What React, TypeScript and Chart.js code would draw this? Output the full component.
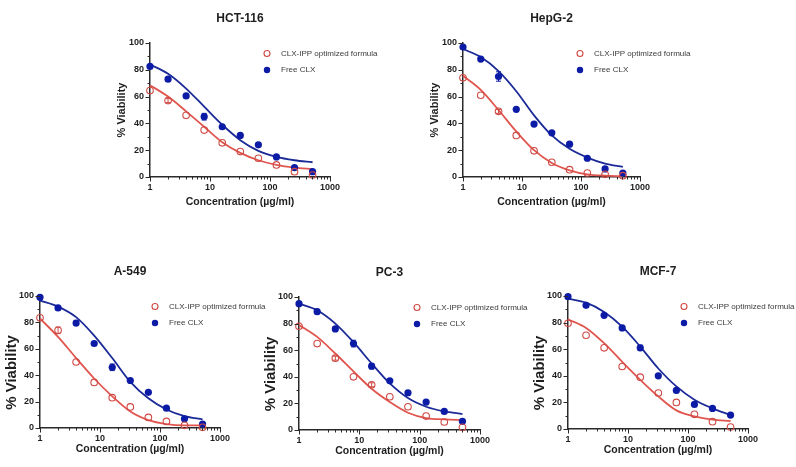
import React, { useEffect, useRef } from "react";
import { Chart, registerables } from "chart.js";

Chart.register(...registerables);

// ---------- data ----------
const concentrations = [1, 2, 4, 8, 16, 32, 64, 128, 256, 512];
const xTickValues = [1, 10, 100, 1000];
const yTickValues = [0, 20, 40, 60, 80, 100];
const seriesNames = ["CLX-IPP optimized formula", "Free CLX"];
const cellLines = ["HCT-116", "HepG-2", "A-549", "PC-3", "MCF-7"];

const hctFormula = [64.5, 57, 46, 35, 25.5, 19, 14, 9, 4, 1.5];
const hctFree = [82.5, 73, 60.5, 45, 37.5, 31, 24, 15, 7, 4];
const hctFormulaErr = [0, 1.5, 0, 0, 0, 0, 0, 0, 0, 0];
const hctFreeErr = [0, 0, 0, 2.5, 0, 0, 0, 0, 0, 0];
const hctFormulaFit = [68.5, 60, 49, 37.5, 26, 18, 12.5, 9, 7, 6];
const hctFreeFit = [84, 77, 66, 52.5, 39, 27.5, 19.5, 15, 12.5, 11];

const hepFormula = [74, 61, 49, 31, 19.5, 11, 5.5, 3, 2, 1];
const hepFree = [97, 88, 75, 50.5, 39.5, 33, 24.5, 14, 6, 3];
const hepFormulaErr = [0, 0, 1.5, 0, 0, 0, 0, 0, 0, 0];
const hepFreeErr = [0, 0, 3.5, 0, 0, 0, 0, 0, 0, 0];
const hepFormulaFit = [75.5, 65, 50, 34, 20, 10.5, 5, 2, 1, 0.5];
const hepFreeFit = [95.5, 89.5, 79, 64, 46, 31, 21, 14.5, 10, 7.5];

const a549Formula = [83.5, 74, 50, 34.5, 23, 16, 8, 5, 2, 0.5];
const a549Free = [99, 91, 79.5, 64, 46, 36, 27, 15, 7, 3];
const a549FormulaErr = [0, 2.5, 0, 0, 0, 0, 0, 0, 0, 0];
const a549FreeErr = [0, 0, 2, 0, 2.5, 0, 0, 0, 0, 0];
const a549FormulaFit = [83, 69, 53, 37.5, 24, 12.5, 6, 3, 2, 2];
const a549FreeFit = [96.5, 92, 84, 70, 53, 35, 22.5, 14, 9, 6.5];

const pc3Formula = [78, 65, 54, 40, 34, 25, 17.5, 10.5, 6, 2];
const pc3Free = [95, 89, 76, 65, 48, 37, 28, 21, 14, 6.5];
const pc3FormulaErr = [0, 0, 1.5, 0, 1.5, 0, 0, 0, 0, 0];
const pc3FreeErr = [0, 0, 1.5, 2.5, 2, 0, 0, 0, 0, 0];
const pc3FormulaFit = [79, 70, 57.5, 44, 31, 21, 13, 9, 8, 7.5];
const pc3FreeFit = [95, 90, 80, 66, 50, 35, 24, 17.5, 14, 12];

const mcfFormula = [79.5, 70.5, 61, 47, 39, 27, 20, 11, 5.5, 1.5];
const mcfFree = [99.5, 93, 85.5, 76, 61, 40, 29, 18.5, 15.5, 10.5];
const mcfFormulaErr = [0, 0, 0, 0, 0, 0, 0, 0, 0, 0];
const mcfFreeErr = [0, 0, 0, 0, 2, 0, 0, 0, 0, 0];
const mcfFormulaFit = [82.5, 76, 64.5, 50.5, 37, 24.5, 14, 9.5, 7, 6];
const mcfFreeFit = [98, 95, 88, 77, 62, 45.5, 32, 22, 15.5, 10.5];

// ---------- layout / style ----------
const RED_PT = "#cf4a44";
const RED_LINE = "#e0564f";
const BLUE_PT = "#0c1ba6";
const BLUE_LINE = "#1b2a97";
const AXIS = "#2a2a2a";
const FONT = "'Liberation Sans', Arial, sans-serif";

const Y_AXIS_W = 50;
const RIGHT_PAD = 70;
const TOP_H = 36;
const X_AXIS_H = 34;
const BOTTOM_PAD = 2;

type PanelDef = {
  title: string;
  formula: number[];
  free: number[];
  formulaErr: number[];
  freeErr: number[];
  formulaFit: number[];
  freeFit: number[];
  left: number;
  top: number;
  w: number;
  h: number;
  yTitleSize: number;
  yTitlePadTop: number;
  yTitleSpaces: string;
  xTitlePadBottom: number;
  legendDx: number;
};

const panels: PanelDef[] = [
  { title: cellLines[0], formula: hctFormula, free: hctFree, formulaErr: hctFormulaErr, freeErr: hctFreeErr,
    formulaFit: hctFormulaFit, freeFit: hctFreeFit,
    left: 150, top: 43, w: 180, h: 134, yTitleSize: 11, yTitlePadTop: 15.4, yTitleSpaces: "", xTitlePadBottom: 3, legendDx: 117 },
  { title: cellLines[1], formula: hepFormula, free: hepFree, formulaErr: hepFormulaErr, freeErr: hepFreeErr,
    formulaFit: hepFormulaFit, freeFit: hepFreeFit,
    left: 463, top: 43, w: 177, h: 134, yTitleSize: 11, yTitlePadTop: 15.4, yTitleSpaces: "", xTitlePadBottom: 3, legendDx: 117 },
  { title: cellLines[2], formula: a549Formula, free: a549Free, formulaErr: a549FormulaErr, freeErr: a549FreeErr,
    formulaFit: a549FormulaFit, freeFit: a549FreeFit,
    left: 40, top: 296, w: 180, h: 132, yTitleSize: 15, yTitlePadTop: 13, yTitleSpaces: "     ", xTitlePadBottom: 7, legendDx: 115 },
  { title: cellLines[3], formula: pc3Formula, free: pc3Free, formulaErr: pc3FormulaErr, freeErr: pc3FreeErr,
    formulaFit: pc3FormulaFit, freeFit: pc3FreeFit,
    left: 299, top: 297, w: 181, h: 133, yTitleSize: 15, yTitlePadTop: 13, yTitleSpaces: "     ", xTitlePadBottom: 7, legendDx: 118 },
  { title: cellLines[4], formula: mcfFormula, free: mcfFree, formulaErr: mcfFormulaErr, freeErr: mcfFreeErr,
    formulaFit: mcfFormulaFit, freeFit: mcfFreeFit,
    left: 568, top: 296, w: 180, h: 133, yTitleSize: 15, yTitlePadTop: 13, yTitleSpaces: "     ", xTitlePadBottom: 7, legendDx: 116 },
];

const toPoints = (vals: number[]) => concentrations.map((c, i) => ({ x: c, y: vals[i] }));

const tickMarksPlugin = {
  id: "tickMarks",
  afterDraw(chart: any) {
    const { ctx, scales } = chart;
    const xs = scales.x;
    const ys = scales.y;
    ctx.save();
    ctx.strokeStyle = AXIS;
    ctx.lineWidth = 1;
    ctx.beginPath();
    for (let d = 1; d <= 100; d *= 10) {
      for (let m = 1; m < 10; m++) {
        const px = Math.round(xs.getPixelForValue(d * m)) + 0.5;
        const len = m === 1 ? 4.5 : 2.5;
        ctx.moveTo(px, ys.bottom);
        ctx.lineTo(px, ys.bottom + len);
      }
    }
    const pEnd = Math.round(xs.getPixelForValue(1000)) + 0.5;
    ctx.moveTo(pEnd, ys.bottom);
    ctx.lineTo(pEnd, ys.bottom + 4.5);
    for (let v = 0; v <= 100; v += 10) {
      const py = Math.round(ys.getPixelForValue(v)) + 0.5;
      const len = v % 20 === 0 ? 4.5 : 2.5;
      ctx.moveTo(xs.left, py);
      ctx.lineTo(xs.left - len, py);
    }
    ctx.stroke();
    ctx.restore();
  },
};

// error bars for the two measured series (datasets 0 and 1)
const makeErrorBarPlugin = (errs: number[][], colors: string[]) => ({
  id: "errorBars",
  afterDatasetsDraw(chart: any) {
    const { ctx, scales } = chart;
    const xs = scales.x;
    const ys = scales.y;
    ctx.save();
    ctx.lineWidth = 1;
    errs.forEach((errArr, di) => {
      const ds = chart.data.datasets[di];
      ctx.strokeStyle = colors[di];
      ctx.beginPath();
      ds.data.forEach((p: any, i: number) => {
        const e = errArr[i];
        if (!e) return;
        const px = xs.getPixelForValue(p.x);
        const yHi = ys.getPixelForValue(p.y + e);
        const yLo = ys.getPixelForValue(p.y - e);
        ctx.moveTo(px, yHi);
        ctx.lineTo(px, yLo);
        ctx.moveTo(px - 2.5, yHi);
        ctx.lineTo(px + 2.5, yHi);
        ctx.moveTo(px - 2.5, yLo);
        ctx.lineTo(px + 2.5, yLo);
      });
      ctx.stroke();
    });
    ctx.restore();
  },
});

const makeLegendPlugin = (dx: number) => ({
  id: "panelLegend",
  afterDraw(chart: any) {
    const { ctx, chartArea } = chart;
    const x = chartArea.left + dx;
    const rows = [chartArea.top + 10.5, chartArea.top + 27];
    ctx.save();
    ctx.font = "8px " + FONT;
    ctx.textBaseline = "middle";
    ctx.textAlign = "left";
    ctx.beginPath();
    ctx.arc(x, rows[0], 3, 0, Math.PI * 2);
    ctx.strokeStyle = RED_PT;
    ctx.lineWidth = 1.1;
    ctx.stroke();
    ctx.fillStyle = "#3a3a3a";
    ctx.fillText(seriesNames[0], x + 14, rows[0]);
    ctx.beginPath();
    ctx.arc(x, rows[1], 3.2, 0, Math.PI * 2);
    ctx.fillStyle = BLUE_PT;
    ctx.fill();
    ctx.fillStyle = "#3a3a3a";
    ctx.fillText(seriesNames[1], x + 14, rows[1]);
    ctx.restore();
  },
});

function Panel({ def }: { def: PanelDef }) {
  const ref = useRef<HTMLCanvasElement>(null);
  const cw = Y_AXIS_W + def.w + RIGHT_PAD;
  const ch = TOP_H + def.h + X_AXIS_H + BOTTOM_PAD;

  useEffect(() => {
    if (!ref.current) return;
    const chart = new Chart(ref.current, {
      type: "scatter",
      data: {
        datasets: [
          {
            label: seriesNames[0],
            data: toPoints(def.formula),
            pointStyle: "circle",
            pointRadius: 3.3,
            pointBorderWidth: 1.1,
            pointBorderColor: RED_PT,
            pointBackgroundColor: "rgba(255,255,255,0)",
            showLine: false,
            clip: false,
            order: 0,
          },
          {
            label: seriesNames[1],
            data: toPoints(def.free),
            pointStyle: "circle",
            pointRadius: 3.6,
            pointBorderWidth: 0,
            pointBorderColor: BLUE_PT,
            pointBackgroundColor: BLUE_PT,
            showLine: false,
            clip: false,
            order: 0,
          },
          {
            label: seriesNames[0] + " fit",
            data: toPoints(def.formulaFit),
            showLine: true,
            pointRadius: 0,
            borderColor: RED_LINE,
            borderWidth: 1.8,
            cubicInterpolationMode: "monotone",
            clip: false,
            order: 1,
          },
          {
            label: seriesNames[1] + " fit",
            data: toPoints(def.freeFit),
            showLine: true,
            pointRadius: 0,
            borderColor: BLUE_LINE,
            borderWidth: 1.8,
            cubicInterpolationMode: "monotone",
            clip: false,
            order: 1,
          },
        ],
      } as any,
      options: {
        animation: false,
        responsive: false,
        devicePixelRatio: 1,
        events: [],
        layout: { padding: { left: 0, top: 4, right: RIGHT_PAD, bottom: BOTTOM_PAD } },
        plugins: {
          legend: { display: false },
          tooltip: { enabled: false },
          title: {
            display: true,
            text: def.title,
            fullSize: false,
            color: "#1e1e1e",
            font: { family: FONT, size: 12, weight: "bold" },
            padding: { top: 0, bottom: 17.6 },
          },
        },
        scales: {
          x: {
            type: "logarithmic",
            min: 1,
            max: 1000,
            grid: { display: false, drawTicks: false },
            border: { display: true, color: AXIS, width: 1.5 },
            afterBuildTicks: (scale: any) => {
              scale.ticks = xTickValues.map((v) => ({ value: v }));
            },
            afterFit: (scale: any) => {
              scale.height = X_AXIS_H;
              scale.paddingLeft = 0;
              scale.paddingRight = 0;
            },
            ticks: {
              autoSkip: false,
              maxRotation: 0,
              padding: 5,
              color: "#1e1e1e",
              font: { family: FONT, size: 9, weight: "bold" },
              callback: (v: any) => String(v),
            },
            title: {
              display: true,
              text: "Concentration (µg/ml)",
              color: "#1e1e1e",
              font: { family: FONT, size: 10.5, weight: "bold" },
              padding: { top: 0, bottom: def.xTitlePadBottom },
            },
          },
          y: {
            type: "linear",
            min: 0,
            max: 100,
            grid: { display: false, drawTicks: false },
            border: { display: true, color: AXIS, width: 1.5 },
            afterBuildTicks: (scale: any) => {
              scale.ticks = yTickValues.map((v) => ({ value: v }));
            },
            afterFit: (scale: any) => {
              scale.width = Y_AXIS_W;
              scale.paddingTop = 0;
              scale.paddingBottom = 0;
            },
            ticks: {
              padding: 6,
              color: "#1e1e1e",
              font: { family: FONT, size: 9, weight: "bold" },
            },
            title: {
              display: true,
              text: "% Viability" + def.yTitleSpaces,
              color: "#1e1e1e",
              font: { family: FONT, size: def.yTitleSize, weight: "bold" },
              padding: { top: def.yTitlePadTop, bottom: 0 },
            },
          },
        },
      } as any,
      plugins: [
        tickMarksPlugin,
        makeErrorBarPlugin([def.formulaErr, def.freeErr], [RED_PT, BLUE_PT]),
        makeLegendPlugin(def.legendDx),
      ],
    });
    return () => chart.destroy();
  }, [def]);

  return (
    <canvas
      ref={ref}
      width={cw}
      height={ch}
      style={{
        position: "absolute",
        left: def.left - Y_AXIS_W,
        top: def.top - TOP_H,
        width: cw,
        height: ch,
      }}
    />
  );
}

export default function App() {
  return (
    <div
      style={{
        position: "fixed",
        left: 0,
        top: 0,
        width: 796,
        height: 467,
        background: "#ffffff",
        overflow: "hidden",
      }}
    >
      {panels.map((p) => (
        <Panel key={p.title} def={p} />
      ))}
    </div>
  );
}
